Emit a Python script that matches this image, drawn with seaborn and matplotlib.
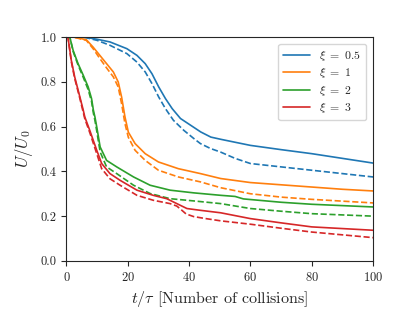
import pandas as pd
import matplotlib
matplotlib.use("Agg")
import matplotlib.pyplot as plt
import seaborn as sns

sns.set_style("ticks")
plt.rcParams["font.family"] = "serif"
plt.rcParams["font.serif"] = ["cmr10"]
plt.rcParams["mathtext.fontset"] = "cm"
plt.rcParams["axes.formatter.use_mathtext"] = True

xis = ["0.5", "1", "2", "3"]
colors = ["#1f77b4", "#ff7f0e", "#2ca02c", "#d62728"]

# solid curves
t_b = [0, 3, 6.5, 10, 14.2, 19.7, 23, 25.7, 27.9, 30.1, 32.3, 34.5, 37.2, 40.5, 43.8, 47.1, 50.4, 55, 60, 70, 80, 90, 100]
u_b = [1.0, 1.0, 0.998, 0.99, 0.978, 0.948, 0.918, 0.881, 0.836, 0.777, 0.725, 0.68, 0.636, 0.606, 0.576, 0.553, 0.543, 0.53, 0.516, 0.497, 0.479, 0.458, 0.437]
t_o = [0, 2.2, 6.5, 8.7, 10.9, 13.1, 15.3, 16.9, 18, 19.1, 20.2, 22.4, 25.7, 30, 36.5, 43.7, 50.3, 60, 70, 80, 90, 100]
u_o = [1.0, 1.0, 0.988, 0.955, 0.918, 0.881, 0.844, 0.799, 0.732, 0.643, 0.575, 0.524, 0.479, 0.442, 0.412, 0.39, 0.368, 0.35, 0.34, 0.33, 0.32, 0.3125]
t_g = [0, 1.1, 2.2, 3.8, 5.5, 7.1, 8.2, 8.8, 9.3, 9.9, 11, 13.1, 16.4, 21.9, 27.3, 33.8, 41.5, 50.3, 55, 57.7, 70, 80, 100]
u_g = [1.0, 1.0, 0.94, 0.881, 0.829, 0.777, 0.725, 0.673, 0.643, 0.598, 0.509, 0.449, 0.42, 0.375, 0.338, 0.316, 0.304, 0.293, 0.288, 0.277, 0.262, 0.253, 0.241]
t_r = [0, 0.5, 1.6, 2.7, 4.4, 5.5, 6, 7.7, 9.9, 11.5, 14.2, 17.5, 23, 28.3, 32.7, 36, 39.3, 43.7, 50.3, 60, 70, 80, 100]
u_r = [1.0, 1.0, 0.896, 0.822, 0.732, 0.673, 0.643, 0.58, 0.494, 0.435, 0.39, 0.36, 0.316, 0.293, 0.278, 0.256, 0.234, 0.226, 0.215, 0.189, 0.17, 0.152, 0.137]

# dashed curves
td_b = [0, 5.5, 10, 14.2, 19.7, 23, 25.7, 27.9, 30.1, 32.3, 34.9, 38.3, 41.6, 43.7, 47, 50.3, 55, 60, 70, 80, 90, 100]
ud_b = [1.0, 1.0, 0.985, 0.963, 0.926, 0.888, 0.844, 0.792, 0.732, 0.68, 0.628, 0.583, 0.546, 0.524, 0.502, 0.486, 0.458, 0.435, 0.42, 0.405, 0.39, 0.375]
td_o = [0, 2.2, 6.5, 8.7, 10.9, 13.1, 15.3, 16.9, 18, 19.1, 20.2, 22.4, 25.7, 30, 36.5, 43.7, 50.3, 60, 70, 80, 90, 100]
ud_o = [1.0, 1.0, 0.985, 0.948, 0.904, 0.862, 0.822, 0.777, 0.702, 0.613, 0.552, 0.494, 0.449, 0.405, 0.375, 0.353, 0.327, 0.30, 0.285, 0.275, 0.267, 0.259]
td_g = [0, 1.1, 2.2, 3.8, 5.5, 7.1, 8.2, 8.8, 9.3, 9.9, 11, 13.1, 16.4, 21.9, 27.3, 33.8, 41.5, 50.3, 60, 70, 80, 100]
ud_g = [1.0, 1.0, 0.935, 0.875, 0.82, 0.765, 0.712, 0.66, 0.628, 0.58, 0.487, 0.42, 0.39, 0.338, 0.301, 0.278, 0.268, 0.256, 0.234, 0.222, 0.211, 0.2]
td_r = [0, 0.5, 1.6, 2.7, 4.4, 6, 7.7, 9.9, 11.5, 14.2, 17.5, 23, 28.3, 33.8, 36, 37.5, 39, 41.5, 45, 50.3, 60, 70, 80, 100]
ud_r = [1.0, 1.0, 0.89, 0.815, 0.725, 0.635, 0.57, 0.479, 0.412, 0.367, 0.338, 0.293, 0.271, 0.256, 0.245, 0.228, 0.21, 0.198, 0.19, 0.179, 0.164, 0.146, 0.129, 0.104]

solid = [(t_b, u_b), (t_o, u_o), (t_g, u_g), (t_r, u_r)]
dashed = [(td_b, ud_b), (td_o, ud_o), (td_g, ud_g), (td_r, ud_r)]

fig = plt.figure(figsize=(4.15, 3.11), dpi=100)
ax = fig.add_axes([0.160, 0.161, 0.739, 0.720])

for xi, c, (t, u), (td, ud) in zip(xis, colors, solid, dashed):
    sns.lineplot(x=t, y=u, ax=ax, color=c, lw=1.2, label=r"$\xi\ =\ %s$" % xi)
    sns.lineplot(x=td, y=ud, ax=ax, color=c, lw=1.2, linestyle="--")

ax.set_xlim(0, 100)
ax.set_ylim(0, 1)
ax.set_xticks([0, 20, 40, 60, 80, 100])
ax.set_yticks([0.0, 0.2, 0.4, 0.6, 0.8, 1.0])
ax.set_yticklabels(["0.0", "0.2", "0.4", "0.6", "0.8", "1.0"])
ax.set_xlabel(r"$t/\tau$ [Number of collisions]", fontsize=11.5)
ax.set_ylabel(r"$U/U_0$", fontsize=12)
ax.tick_params(labelsize=9)
ax.legend(loc="upper right", fontsize=8.5, frameon=True, labelspacing=0.3,
          handlelength=2.3, borderaxespad=0.6)

fig.savefig("out.png", dpi=100)
